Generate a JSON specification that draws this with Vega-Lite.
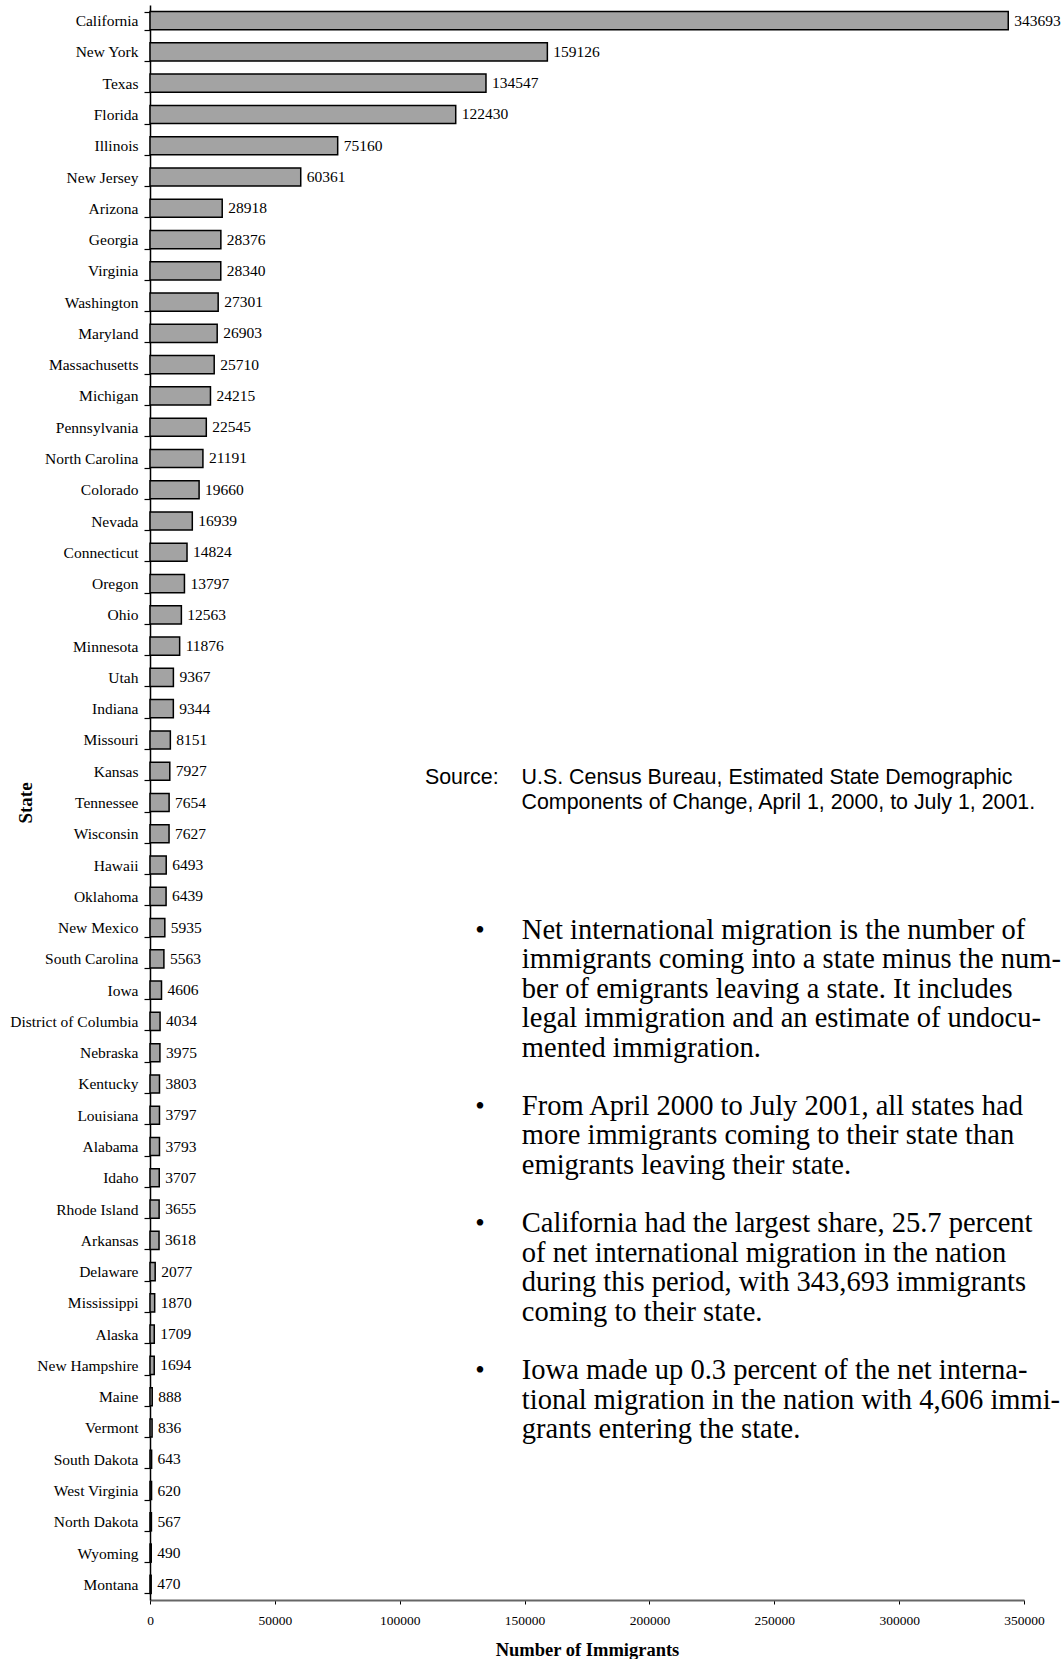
{
  "$schema": "https://vega.github.io/schema/vega-lite/v6.json",
  "width": 874,
  "height": 1595,
  "autosize": {"type": "none"},
  "padding": {"left": 150, "top": 5, "right": 38, "bottom": 59},
  "background": "white",
  "config": {"view": {"stroke": null}, "font": "Liberation Serif"},
  "data": {
    "values": [
      {"state": "California", "immigrants": 343693},
      {"state": "New York", "immigrants": 159126},
      {"state": "Texas", "immigrants": 134547},
      {"state": "Florida", "immigrants": 122430},
      {"state": "Illinois", "immigrants": 75160},
      {"state": "New Jersey", "immigrants": 60361},
      {"state": "Arizona", "immigrants": 28918},
      {"state": "Georgia", "immigrants": 28376},
      {"state": "Virginia", "immigrants": 28340},
      {"state": "Washington", "immigrants": 27301},
      {"state": "Maryland", "immigrants": 26903},
      {"state": "Massachusetts", "immigrants": 25710},
      {"state": "Michigan", "immigrants": 24215},
      {"state": "Pennsylvania", "immigrants": 22545},
      {"state": "North Carolina", "immigrants": 21191},
      {"state": "Colorado", "immigrants": 19660},
      {"state": "Nevada", "immigrants": 16939},
      {"state": "Connecticut", "immigrants": 14824},
      {"state": "Oregon", "immigrants": 13797},
      {"state": "Ohio", "immigrants": 12563},
      {"state": "Minnesota", "immigrants": 11876},
      {"state": "Utah", "immigrants": 9367},
      {"state": "Indiana", "immigrants": 9344},
      {"state": "Missouri", "immigrants": 8151},
      {"state": "Kansas", "immigrants": 7927},
      {"state": "Tennessee", "immigrants": 7654},
      {"state": "Wisconsin", "immigrants": 7627},
      {"state": "Hawaii", "immigrants": 6493},
      {"state": "Oklahoma", "immigrants": 6439},
      {"state": "New Mexico", "immigrants": 5935},
      {"state": "South Carolina", "immigrants": 5563},
      {"state": "Iowa", "immigrants": 4606},
      {"state": "District of Columbia", "immigrants": 4034},
      {"state": "Nebraska", "immigrants": 3975},
      {"state": "Kentucky", "immigrants": 3803},
      {"state": "Louisiana", "immigrants": 3797},
      {"state": "Alabama", "immigrants": 3793},
      {"state": "Idaho", "immigrants": 3707},
      {"state": "Rhode Island", "immigrants": 3655},
      {"state": "Arkansas", "immigrants": 3618},
      {"state": "Delaware", "immigrants": 2077},
      {"state": "Mississippi", "immigrants": 1870},
      {"state": "Alaska", "immigrants": 1709},
      {"state": "New Hampshire", "immigrants": 1694},
      {"state": "Maine", "immigrants": 888},
      {"state": "Vermont", "immigrants": 836},
      {"state": "South Dakota", "immigrants": 643},
      {"state": "West Virginia", "immigrants": 620},
      {"state": "North Dakota", "immigrants": 567},
      {"state": "Wyoming", "immigrants": 490},
      {"state": "Montana", "immigrants": 470}
    ]
  },
  "layer": [
    {
      "mark": {"type": "bar", "fill": "#a3a3a3", "stroke": "black", "strokeWidth": 1.5},
      "encoding": {
        "y": {
          "field": "state", "type": "nominal", "sort": null,
          "scale": {"paddingInner": 0.42, "paddingOuter": 0.21},
          "axis": {
            "title": "State", "titleFont": "Liberation Serif", "titleFontSize": 19, "titleFontWeight": "bold",
            "titleColor": "black", "titleX": -125, "titleY": 797.5, "titleAngle": -90,
            "titleAlign": "center", "titleBaseline": "middle",
            "labelFont": "Liberation Serif", "labelFontSize": 15.5, "labelColor": "black", "labelPadding": 6,
            "tickBand": "extent", "tickSize": 6, "tickColor": "black", "tickWidth": 1.2,
            "domainColor": "black", "domainWidth": 1.5, "grid": false
          }
        },
        "x": {
          "field": "immigrants", "type": "quantitative",
          "scale": {"domain": [0, 350000], "nice": false},
          "axis": {
            "title": "Number of Immigrants", "titleFont": "Liberation Serif", "titleFontSize": 18.5,
            "titleFontWeight": "bold", "titleColor": "black", "titleY": 55, "titleBaseline": "alphabetic",
            "values": [0, 50000, 100000, 150000, 200000, 250000, 300000, 350000], "format": "d",
            "labelFont": "Liberation Serif", "labelFontSize": 13.5, "labelColor": "black", "labelPadding": 9,
            "labelFlush": false, "labelOverlap": false,
            "tickSize": 4, "tickColor": "black", "domainColor": "#666666", "domainWidth": 2, "grid": false
          }
        }
      }
    },
    {
      "mark": {"type": "text", "align": "left", "baseline": "middle", "dx": 6, "fontSize": 15.5, "font": "Liberation Serif", "color": "black"},
      "encoding": {
        "y": {"field": "state", "type": "nominal", "sort": null},
        "x": {"field": "immigrants", "type": "quantitative"},
        "text": {"field": "immigrants", "type": "quantitative", "format": "d"}
      }
    },
    {
      "data": {"values": [{}]},
      "mark": {"type": "text", "text": "Source:", "font": "Liberation Sans", "fontSize": 21.4, "align": "left", "baseline": "alphabetic", "dy": 12.8, "color": "black"},
      "encoding": {
        "x": {"datum": 110100, "type": "quantitative"},
        "y": {"datum": "Kansas", "type": "nominal"}
      }
    },
    {
      "data": {"values": [{}]},
      "mark": {"type": "text", "text": ["U.S. Census Bureau, Estimated State Demographic", "Components of Change, April 1, 2000, to July 1, 2001."], "font": "Liberation Sans", "fontSize": 21.4, "lineHeight": 25, "align": "left", "baseline": "alphabetic", "dy": 12.8, "color": "black"},
      "encoding": {
        "x": {"datum": 148770, "type": "quantitative"},
        "y": {"datum": "Kansas", "type": "nominal"}
      }
    },
    {
      "data": {"values": [{}]},
      "mark": {"type": "text", "text": "•", "font": "Liberation Serif", "fontSize": 27, "align": "center", "baseline": "alphabetic", "dy": 11, "color": "black"},
      "encoding": {"x": {"datum": 132150, "type": "quantitative"}, "y": {"datum": "New Mexico", "type": "nominal"}}
    },
    {
      "data": {"values": [{}]},
      "mark": {"type": "text", "text": ["Net international migration is the number of", "immigrants coming into a state minus the num-", "ber of emigrants leaving a state. It includes", "legal immigration and an estimate of undocu-", "mented immigration."], "font": "Liberation Serif", "fontSize": 28.5, "lineHeight": 29.5, "align": "left", "baseline": "alphabetic", "dy": 11, "color": "black"},
      "encoding": {"x": {"datum": 148900, "type": "quantitative"}, "y": {"datum": "New Mexico", "type": "nominal"}}
    },
    {
      "data": {"values": [{}]},
      "mark": {"type": "text", "text": "•", "font": "Liberation Serif", "fontSize": 27, "align": "center", "baseline": "alphabetic", "dy": -0.7, "color": "black"},
      "encoding": {"x": {"datum": 132150, "type": "quantitative"}, "y": {"datum": "Louisiana", "type": "nominal"}}
    },
    {
      "data": {"values": [{}]},
      "mark": {"type": "text", "text": ["From April 2000 to July 2001, all states had", "more immigrants coming to their state than", "emigrants leaving their state."], "font": "Liberation Serif", "fontSize": 28.5, "lineHeight": 29.5, "align": "left", "baseline": "alphabetic", "dy": -0.7, "color": "black"},
      "encoding": {"x": {"datum": 148900, "type": "quantitative"}, "y": {"datum": "Louisiana", "type": "nominal"}}
    },
    {
      "data": {"values": [{}]},
      "mark": {"type": "text", "text": "•", "font": "Liberation Serif", "fontSize": 27, "align": "center", "baseline": "alphabetic", "dy": -8, "color": "black"},
      "encoding": {"x": {"datum": 132150, "type": "quantitative"}, "y": {"datum": "Arkansas", "type": "nominal"}}
    },
    {
      "data": {"values": [{}]},
      "mark": {"type": "text", "text": ["California had the largest share, 25.7 percent", "of net international migration in the nation", "during this period, with 343,693 immigrants", "coming to their state."], "font": "Liberation Serif", "fontSize": 28.5, "lineHeight": 29.5, "align": "left", "baseline": "alphabetic", "dy": -8, "color": "black"},
      "encoding": {"x": {"datum": 148900, "type": "quantitative"}, "y": {"datum": "Arkansas", "type": "nominal"}}
    },
    {
      "data": {"values": [{}]},
      "mark": {"type": "text", "text": "•", "font": "Liberation Serif", "fontSize": 27, "align": "center", "baseline": "alphabetic", "dy": -17.5, "color": "black"},
      "encoding": {"x": {"datum": 132150, "type": "quantitative"}, "y": {"datum": "Maine", "type": "nominal"}}
    },
    {
      "data": {"values": [{}]},
      "mark": {"type": "text", "text": ["Iowa made up 0.3 percent of the net interna-", "tional migration in the nation with 4,606 immi-", "grants entering the state."], "font": "Liberation Serif", "fontSize": 28.5, "lineHeight": 29.5, "align": "left", "baseline": "alphabetic", "dy": -17.5, "color": "black"},
      "encoding": {"x": {"datum": 148900, "type": "quantitative"}, "y": {"datum": "Maine", "type": "nominal"}}
    }
  ]
}
